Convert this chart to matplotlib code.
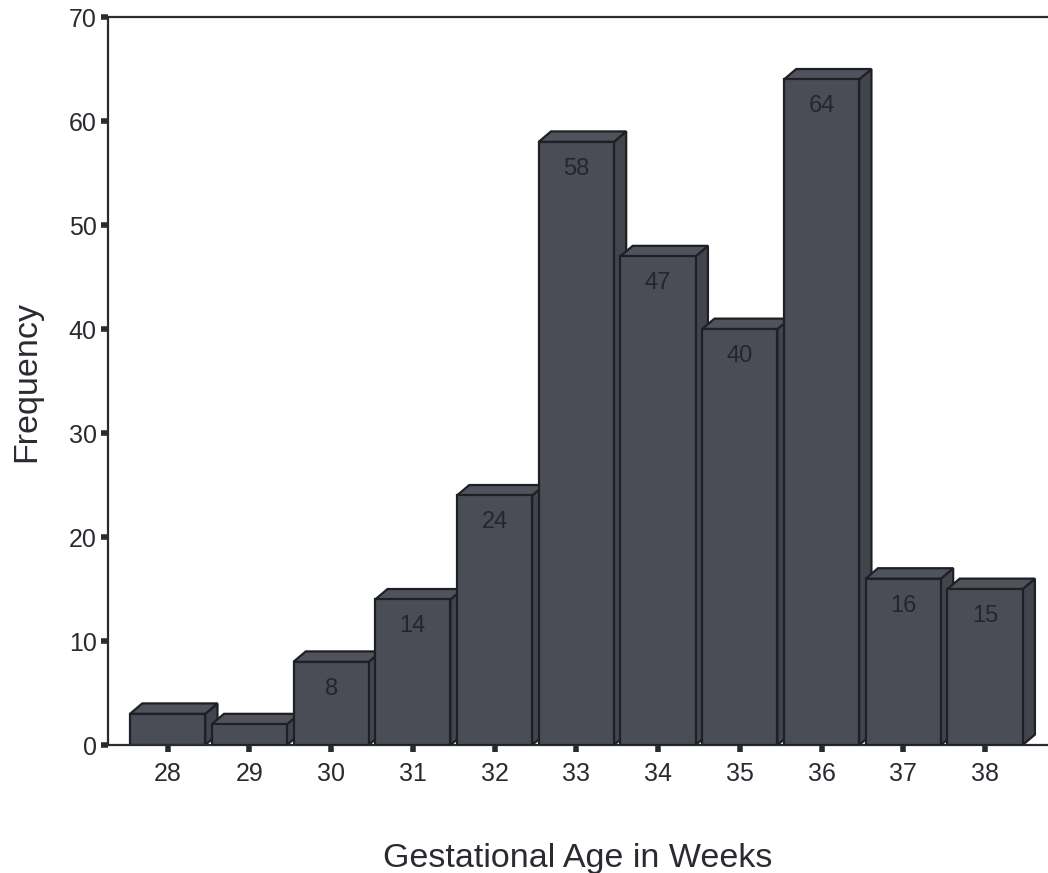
import matplotlib
matplotlib.use("Agg")
import matplotlib.pyplot as plt
from matplotlib.patches import Polygon

weeks = [28, 29, 30, 31, 32, 33, 34, 35, 36, 37, 38]
freq = [3, 2, 8, 14, 24, 58, 47, 40, 64, 16, 15]
show_label = [False, False, True, True, True, True, True, True, True, True, True]

FRONT = "#4a4d56"
SIDE = "#43454d"
TOP = "#50535c"
EDGE = "#1f2026"
INK = "#2a2b30"

plt.rcParams['font.family'] = ['Liberation Sans', 'DejaVu Sans']

fig = plt.figure(figsize=(10.48, 8.73), dpi=100)
ax = fig.add_axes([0.103, 0.1466, 0.897, 0.8339])

w = 0.92   # front face width
dx = 0.15  # depth offset in x
dy = 1.0   # depth offset in y

for i, (wk, v) in enumerate(zip(weeks, freq)):
    x0 = wk - w / 2
    x1 = wk + w / 2
    z = 2 + i
    front = Polygon([(x0, 0), (x1, 0), (x1, v), (x0, v)], closed=True,
                    facecolor=FRONT, edgecolor=EDGE, lw=1.6, zorder=z)
    top = Polygon([(x0, v), (x1, v), (x1 + dx, v + dy), (x0 + dx, v + dy)], closed=True,
                  facecolor=TOP, edgecolor=EDGE, lw=1.6, zorder=z)
    side = Polygon([(x1, 0), (x1 + dx, dy), (x1 + dx, v + dy), (x1, v)], closed=True,
                   facecolor=SIDE, edgecolor=EDGE, lw=1.6, zorder=z)
    ax.add_patch(side)
    ax.add_patch(top)
    ax.add_patch(front)
    if show_label[i]:
        ax.text(wk, v - 2.6, str(v), ha='center', va='center', fontsize=17,
                color="#25262b", zorder=z + 0.5)

ax.set_xlim(27.27, 38.77)
ax.set_ylim(0, 70)
ax.set_xticks(weeks)
ax.set_yticks(range(0, 71, 10))
ax.tick_params(axis='both', direction='out', length=5, width=4, color=INK,
               labelsize=18, labelcolor=INK)
ax.tick_params(axis='x', pad=7)
ax.tick_params(axis='y', pad=3)

for s in ['left', 'bottom', 'top']:
    ax.spines[s].set_color(INK)
    ax.spines[s].set_linewidth(1.6)
ax.spines['right'].set_visible(False)

ax.set_xlabel("Gestational Age in Weeks", fontsize=24.5, color=INK, labelpad=41)
ax.set_ylabel("Frequency", fontsize=24.5, color=INK, labelpad=19)

fig.savefig("out.png", dpi=100)
